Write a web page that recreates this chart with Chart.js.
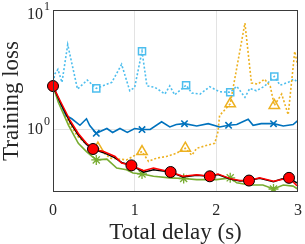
<!DOCTYPE html>
<html>
<head>
<meta charset="utf-8">
<script src="https://cdn.jsdelivr.net/npm/chart.js@4"></script>
<style>
  html, body { margin: 0; padding: 0; background: #fff; }
  #wrap { width: 305px; height: 244px; }
</style>
</head>
<body>
<div id="wrap"><canvas id="lossChart" width="305" height="244"></canvas></div>
<script>
// values (x = total delay in s, y = training loss)
const lightBlueT = [0, 0.02, 0.06, 0.11, 0.18, 0.30, 0.42, 0.53, 0.72, 0.84, 0.94, 1.0, 1.09, 1.15, 1.25, 1.37, 1.43, 1.49, 1.63, 1.70, 1.80, 1.92, 2.04, 2.17, 2.25, 2.35, 2.41, 2.49, 2.59, 2.71, 2.78, 2.88, 2.95, 3.0];
const lightBlueV = [2.31, 2.90, 3.19, 2.48, 5.14, 2.18, 2.59, 2.21, 2.48, 3.51, 2.11, 2.25, 4.52, 2.32, 2.25, 1.98, 2.32, 1.95, 2.35, 2.02, 1.98, 2.28, 2.07, 2.05, 2.30, 1.86, 2.21, 2.11, 2.30, 2.78, 2.35, 2.48, 2.64, 2.48];
const lightBlueMarks = [7, 12, 18, 23, 29];

const blueT = [0, 0.08, 0.16, 0.23, 0.33, 0.41, 0.45, 0.53, 0.66, 0.73, 0.82, 0.91, 1.0, 1.09, 1.19, 1.33, 1.43, 1.51, 1.61, 1.76, 1.90, 2.04, 2.15, 2.25, 2.39, 2.45, 2.55, 2.70, 2.82, 2.94, 3.0];
const blueV = [2.31, 1.72, 1.31, 1.23, 1.085, 1.23, 1.08, 0.93, 1.02, 0.945, 1.02, 0.945, 1.02, 1.0, 1.0, 1.16, 1.05, 1.10, 1.12, 1.07, 1.12, 1.05, 1.085, 1.10, 1.22, 1.085, 1.12, 1.12, 1.07, 1.10, 1.19];
const blueMarks = [7, 13, 18, 22, 27];

const orangeT = [0, 0.1, 0.2, 0.3, 0.4, 0.55, 0.70, 0.90, 1.09, 1.17, 1.27, 1.39, 1.51, 1.62, 1.70, 1.76, 1.90, 1.98, 2.02, 2.04, 2.17, 2.35, 2.43, 2.51, 2.59, 2.66, 2.71, 2.80, 2.88, 2.96, 3.0];
const orangeV = [2.31, 1.55, 1.12, 0.88, 0.76, 0.70, 0.576, 0.557, 0.654, 0.541, 0.576, 0.595, 0.633, 0.697, 0.61, 0.697, 0.742, 0.766, 0.957, 1.31, 1.64, 7.77, 2.45, 2.40, 2.64, 2.31, 1.59, 1.98, 1.33, 4.50, 3.32];
const orangeMarks = [5, 8, 13, 20, 26];

const greenT = [0, 0.065, 0.19, 0.31, 0.41, 0.53, 0.66, 0.78, 0.90, 0.98, 1.09, 1.23, 1.43, 1.60, 1.76, 2.0, 2.17, 2.25, 2.41, 2.57, 2.70, 2.82, 2.94, 3.0];
const greenV = [2.31, 1.69, 1.085, 0.766, 0.654, 0.557, 0.565, 0.476, 0.461, 0.433, 0.425, 0.406, 0.394, 0.389, 0.381, 0.381, 0.394, 0.358, 0.343, 0.343, 0.318, 0.343, 0.336, 0.316];
const greenMarks = [5, 10, 13, 16, 20];

const redT = [0, 0.086, 0.21, 0.31, 0.41, 0.49, 0.62, 0.76, 0.84, 0.96, 1.11, 1.23, 1.44, 1.59, 1.76, 1.92, 2.02, 2.17, 2.29, 2.40, 2.53, 2.70, 2.80, 2.89, 2.98, 3.0];
const redV = [2.31, 1.75, 1.19, 0.927, 0.766, 0.687, 0.654, 0.595, 0.524, 0.501, 0.453, 0.476, 0.441, 0.406, 0.419, 0.406, 0.425, 0.388, 0.374, 0.374, 0.394, 0.369, 0.381, 0.394, 0.343, 0.336];
const redMarks = [0, 5, 9, 12, 15, 19, 23];
const blackV = [2.31, 1.70, 1.15, 0.90, 0.75, 0.687, 0.64, 0.58, 0.53, 0.501, 0.44, 0.46, 0.441, 0.40, 0.415, 0.406, 0.42, 0.385, 0.37, 0.374, 0.39, 0.365, 0.385, 0.394, 0.36, 0.355];

const xTicks = [0, 1, 2, 3];
const yDecades = [1, 10];
const yMin = 0.314;
const yMax = 10;

function pts(t, v) {
    return t.map((x, i) => ({ x: x, y: v[i] }));
}
function markAt(list, r) {
    return ctx => list.includes(ctx.dataIndex) ? r : 0;
}

const serif = "'Liberation Serif', 'Times New Roman', serif";

// box round the plot and 10^n labels on the y axis
const framePlugin = {
    id: 'frame',
    afterDraw(chart) {
        const { ctx, chartArea: a, scales } = chart;
        ctx.save();
        ctx.strokeStyle = '#3a3a3a';
        ctx.lineWidth = 1;
        ctx.strokeRect(a.left + 0.5, a.top + 0.5, a.right - a.left - 1, a.bottom - a.top - 1);
        ctx.fillStyle = '#262626';
        ctx.textBaseline = 'middle';
        yDecades.forEach(d => {
            const py = Math.max(scales.y.getPixelForValue(d), a.top + 5);
            const exp = String(Math.round(Math.log10(d)));
            ctx.font = '12px ' + serif;
            const ew = ctx.measureText(exp).width;
            ctx.textAlign = 'left';
            ctx.fillText(exp, 50 - ew, py - 8);
            ctx.font = '16px ' + serif;
            ctx.textAlign = 'right';
            ctx.fillText('10', 49 - ew, py);
        });
        ctx.restore();
    }
};

const ctx = document.getElementById('lossChart').getContext('2d');
new Chart(ctx, {
    type: 'line',
    data: {
        datasets: [
            {
                data: pts(redT, redV),
                borderColor: '#ff0000',
                borderWidth: 1.5,
                pointStyle: 'circle',
                pointRadius: markAt(redMarks, 5.5),
                pointBackgroundColor: '#ff0000',
                pointBorderColor: '#000000',
                pointBorderWidth: 1,
                clip: false
            },
            {
                data: pts(redT, blackV),
                borderColor: '#000000',
                borderWidth: 1.5,
                pointRadius: 0
            },
            {
                data: pts(greenT, greenV),
                borderColor: '#77ac30',
                borderWidth: 1.6,
                pointStyle: 'star',
                pointRadius: markAt(greenMarks, 5),
                pointBorderColor: '#77ac30',
                pointBorderWidth: 1.3
            },
            {
                data: pts(blueT, blueV),
                borderColor: '#0072bd',
                borderWidth: 1.6,
                pointStyle: 'crossRot',
                pointRadius: markAt(blueMarks, 4.5),
                pointBorderColor: '#0072bd',
                pointBorderWidth: 1.6
            },
            {
                data: pts(orangeT, orangeV),
                borderColor: '#edb120',
                borderWidth: 1.6,
                borderDash: [2, 2],
                pointStyle: 'triangle',
                pointRadius: markAt(orangeMarks, 6),
                pointBackgroundColor: 'rgba(0,0,0,0)',
                pointBorderColor: '#edb120',
                pointBorderWidth: 1.5
            },
            {
                data: pts(lightBlueT, lightBlueV),
                borderColor: '#4dbeee',
                borderWidth: 1.6,
                borderDash: [2, 2],
                pointStyle: 'rect',
                pointRadius: markAt(lightBlueMarks, 5),
                pointBackgroundColor: 'rgba(0,0,0,0)',
                pointBorderColor: '#4dbeee',
                pointBorderWidth: 1.5
            }
        ]
    },
    options: {
        responsive: false,
        animation: false,
        layout: { padding: { left: 0, right: 7, top: 10, bottom: 0 } },
        elements: { line: { tension: 0 } },
        plugins: {
            legend: { display: false },
            tooltip: { enabled: false }
        },
        scales: {
            x: {
                type: 'linear',
                min: 0,
                max: 3,
                afterBuildTicks: axis => { axis.ticks = xTicks.map(v => ({ value: v })); },
                afterFit: axis => {
                    axis.height = 52;
                    axis.paddingLeft = 0;
                    axis.paddingRight = 0;
                },
                grid: {
                    color: c => (c.tick && (c.tick.value === 1 || c.tick.value === 2)) ? '#e3e3e3' : 'rgba(0,0,0,0)',
                    lineWidth: 1,
                    drawTicks: false
                },
                border: { display: false },
                ticks: {
                    color: '#262626',
                    font: { family: serif, size: 16 },
                    padding: 9,
                    maxRotation: 0
                },
                title: {
                    display: true,
                    text: 'Total delay (s)',
                    color: '#262626',
                    font: { family: serif, size: 23, lineHeight: 1 },
                    padding: { top: 0, bottom: 0 }
                }
            },
            y: {
                type: 'logarithmic',
                min: yMin,
                max: yMax,
                afterDataLimits: axis => { axis.min = yMin; axis.max = yMax; },
                afterBuildTicks: axis => { axis.ticks = yDecades.map(v => ({ value: v })); },
                afterFit: axis => {
                    axis.width = 53;
                    axis.paddingTop = 0;
                    axis.paddingBottom = 0;
                },
                grid: {
                    color: c => (c.tick && c.tick.value === 1) ? '#e3e3e3' : 'rgba(0,0,0,0)',
                    lineWidth: 1,
                    drawTicks: false
                },
                border: { display: false },
                ticks: { display: false },
                title: {
                    display: true,
                    text: 'Training loss',
                    color: '#262626',
                    font: { family: serif, size: 23, lineHeight: 1 },
                    padding: { top: 0, bottom: 0 }
                }
            }
        }
    },
    plugins: [framePlugin]
});
</script>
</body>
</html>
